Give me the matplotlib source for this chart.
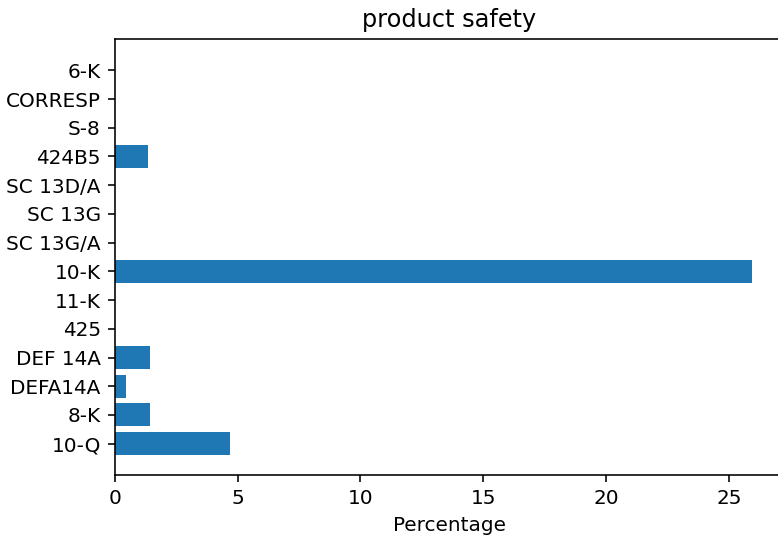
import matplotlib
matplotlib.use("Agg")
import matplotlib.pyplot as plt

# dane (od dolu do gory)
forms = ["10-Q", "8-K", "DEFA14A", "DEF 14A", "425", "11-K", "10-K",
         "SC 13G/A", "SC 13G", "SC 13D/A", "424B5", "S-8", "CORRESP", "6-K"]
percent = [4.69, 1.44, 0.45, 1.44, 0, 0, 25.95,
           0, 0, 0, 1.34, 0, 0, 0]

fig = plt.figure(figsize=(778 / 144, 540 / 144), dpi=144)
ax = fig.add_axes([114.7 / 778, 65 / 540, (784 - 114.7) / 778, 436 / 540])
ax.barh(forms, percent, color="#1f77b4")
ax.set_title("product safety")
ax.set_xlabel("Percentage")

fig.savefig("out.png", dpi=144)
